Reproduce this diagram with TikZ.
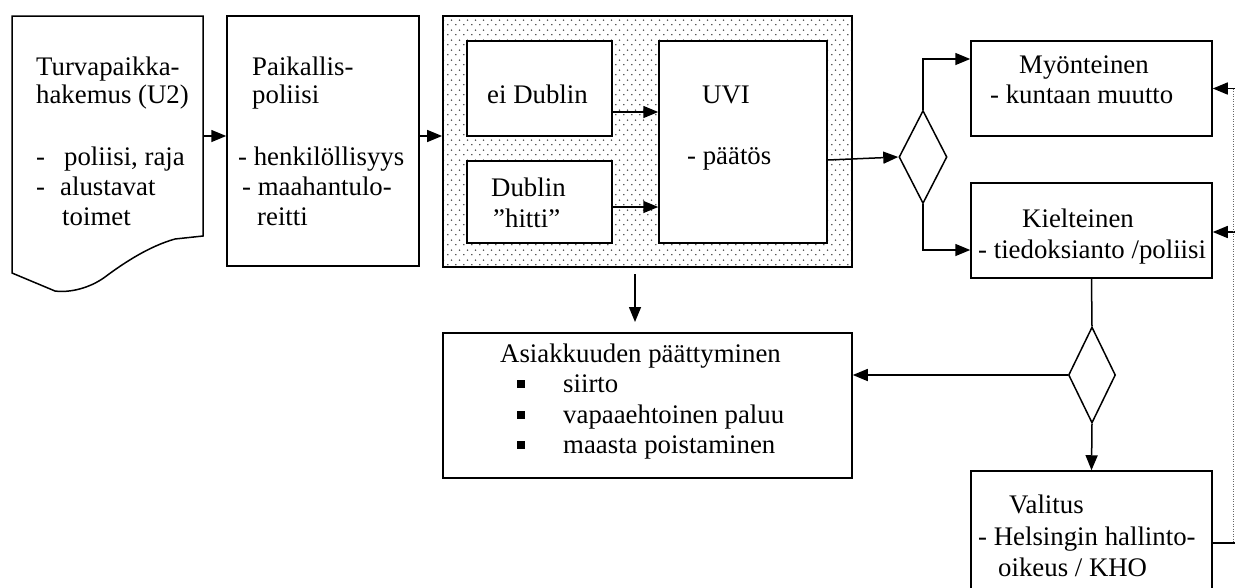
\documentclass[tikz,border=0pt]{standalone}
\usepackage{fontspec}
\setmainfont{Liberation Serif}
\usetikzlibrary{arrows.meta,shapes.geometric,patterns.meta}

\tikzdeclarepattern{
  name=sdots,
  type=uncolored,
  bounding box={(0pt,0pt) and (7.7pt,10pt)},
  tile size={(7.7pt,10pt)},
  code={
    \pgfpathcircle{\pgfpoint{1.9pt}{2.5pt}}{0.85pt}
    \pgfpathcircle{\pgfpoint{5.75pt}{7.5pt}}{0.85pt}
    \pgfusepath{fill}
  }
}

\begin{document}
\begin{tikzpicture}[x=1pt,y=-1pt,
  box/.style={draw, line width=1.5pt, fill=white, inner sep=0pt},
  shadebox/.style={draw, line width=1.8pt, inner sep=0pt, pattern=sdots, pattern color=black!80},
  dia/.style={draw, line width=1.5pt, diamond, inner sep=0pt, fill=white},
  arr/.style={line width=1.5pt, -{Triangle[length=15pt,width=12pt]}},
  ln/.style={line width=1.5pt},
  txt/.style={anchor=base west, inner sep=0pt, font=\fontsize{26.8pt}{30pt}\selectfont},
  bul/.style={txt},
]
\clip (0,0) rectangle (1235,587);

% document shape
\draw[ln] (12,16) -- (203,16) -- (203,236) -- (175,239)
  .. controls (150,246) and (125,262) .. (105,277)
  .. controls (90,288) and (70,293) .. (55,291) -- (12,273) -- cycle;
\coordinate (docR) at (203,136);

% boxes
\node[box, minimum width=192pt, minimum height=250pt] (paik) at (323,141) {};
\node[shadebox, minimum width=409pt, minimum height=251pt] (shade) at (647.5,141.5) {};
\node[box, minimum width=145pt, minimum height=95pt] (eid) at (539.5,88.5) {};
\node[box, minimum width=145pt, minimum height=82pt] (dub) at (539.5,202) {};
\node[box, minimum width=168pt, minimum height=202pt] (uvi) at (743,142) {};
\node[dia, minimum width=48pt, minimum height=93pt] (d1) at (923,157) {};
\node[box, minimum width=241pt, minimum height=95pt] (myo) at (1091.5,88.5) {};
\node[box, minimum width=241pt, minimum height=95pt] (kie) at (1091.5,230.5) {};
\node[dia, minimum width=47pt, minimum height=96pt] (d2) at (1092,375) {};
\node[box, minimum width=409pt, minimum height=145pt] (asi) at (647.5,405.5) {};
\node[box, minimum width=241pt, minimum height=149pt] (val) at (1091.5,545.5) {};

% free ends
\coordinate (s1) at (635,274);
\coordinate (s2) at (635,322);
\coordinate (r1) at (1235,88.5);
\coordinate (r2) at (1235,232);
\coordinate (r3) at (1235,543);

% connectors
\draw[arr] (docR) -- (paik.west |- docR);
\draw[arr] (paik.east |- docR) -- (shade.west |- docR);
\draw[arr] (eid.east |- 0,112) -- (uvi.west |- 0,112);
\draw[arr] (dub.east |- 0,207) -- (uvi.west |- 0,207);
\draw[arr] (uvi.east |- 0,160) -- (d1.west);
\draw[arr] (d1.north) -- (d1.north |- 0,59) -- (myo.west |- 0,59);
\draw[arr] (d1.south) -- (d1.south |- 0,250) -- (kie.west |- 0,250);
\draw[ln] (kie.south) -- (d2.north);
\draw[arr] (d2.west) -- (asi.east |- d2.west);
\draw[arr] (d2.south) -- (val.north);
\draw[arr] (s1) -- (s2);
\draw[arr] (r1) -- (myo.east |- r1);
\draw[arr] (r2) -- (kie.east |- r2);
\draw[ln] (val.east |- r3) -- (r3);
\draw[dotted, line width=0.5pt, black!60] (1233,88.5) -- (1233,543);

% texts
\node[txt] (t1) at (36,75) {Turvapaikka-};
\node[txt] (t2) at (36,103) {hakemus (U2)};
\node[txt] (t3) at (36,165) {\makebox[28pt][l]{-}poliisi, raja};
\node[txt] (t4) at (36,195) {\makebox[24pt][l]{-}alustavat};
\node[txt] (t5) at (62,225) {toimet};

\node[txt] (p1) at (252,75) {Paikallis-};
\node[txt] (p2) at (252,103) {poliisi};
\node[txt] (p3) at (238,165) {- henkilöllisyys};
\node[txt] (p4) at (242,195) {- maahantulo-};
\node[txt] (p5) at (257,225) {reitti};

\node[txt] (e1) at (487,103) {ei Dublin};
\node[txt] (b1) at (491,196) {Dublin};
\node[txt] (b2) at (493,227) {”hitti”};
\node[txt] (u1) at (702,103) {UVI};
\node[txt] (u2) at (687,164) {- päätös};

\node[txt] (m1) at (1019,73) {Myönteinen};
\node[txt] (m2) at (990,103) {- kuntaan muutto};
\node[txt] (k1) at (1022,227) {Kielteinen};
\node[txt] (k2) at (978,258) {- tiedoksianto /poliisi};

\node[txt] (a1) at (500,362) {Asiakkuuden päättyminen};
\node[bul] (a2) at (517,392) {\raisebox{4pt}{\rule{8pt}{8pt}}\hspace{38pt}siirto};
\node[bul] (a3) at (517,423) {\raisebox{4pt}{\rule{8pt}{8pt}}\hspace{38pt}vapaaehtoinen paluu};
\node[bul] (a4) at (517,453) {\raisebox{4pt}{\rule{8pt}{8pt}}\hspace{38pt}maasta poistaminen};

\node[txt] (v1) at (1009,513) {Valitus};
\node[txt] (v2) at (978,545) {- Helsingin hallinto-};
\node[txt] (v3) at (998,576) {oikeus / KHO};
\end{tikzpicture}
\end{document}
